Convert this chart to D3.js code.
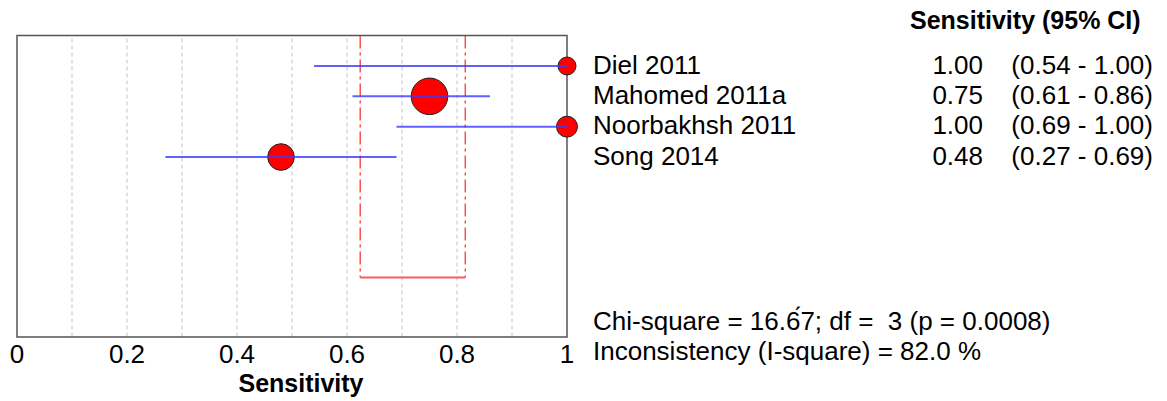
<!DOCTYPE html>
<html>
<head>
<meta charset="utf-8">
<script src="https://cdn.jsdelivr.net/npm/d3@7"></script>
<style>
  body { margin: 0; background: #fff; }
  text { font-family: "Liberation Sans", Arial, sans-serif; fill: #000; white-space: pre; }
</style>
</head>
<body>
<div id="chart"></div>
<script>
// study data
var studies = ["Diel 2011", "Mahomed 2011a", "Noorbakhsh 2011", "Song 2014"];
var sens = [1.00, 0.75, 1.00, 0.48];
var lower = [0.54, 0.61, 0.69, 0.27];
var upper = [1.00, 0.86, 1.00, 0.69];
var weights = [81, 335, 110, 177];   // marker area (relative)

// pooled CI
var pooled = [0.624, 0.815];

var tickValues = [0, 0.2, 0.4, 0.6, 0.8, 1];
var tickLabels = ["0", "0.2", "0.4", "0.6", "0.8", "1"];
var gridValues = [0.1, 0.2, 0.3, 0.4, 0.5, 0.6, 0.7, 0.8, 0.9];

var header = "Sensitivity (95% CI)";
var axisTitle = "Sensitivity";
var stats = ["Chi-square = 16.6\u03017; df =  3 (p = 0.0008)", "Inconsistency (I-square) = 82.0 %"];

var width = 1167, height = 401;
var plotLeft = 17, plotRight = 567, plotTop = 35.5, plotBottom = 337;

var svg = d3.select("#chart").append("svg")
    .attr("width", width)
    .attr("height", height);

var x = d3.scaleLinear().domain([0, 1]).range([plotLeft, plotRight]);
var y = d3.scalePoint().domain(studies).range([66, 157]);
var r = d3.scaleSqrt().domain([0, d3.max(weights)]).range([0, 18.3]);

var rows = studies.map(function (s, i) {
    return { name: s, est: sens[i], lo: lower[i], hi: upper[i], w: weights[i] };
});

// grid
svg.selectAll(".grid")
    .data(gridValues)
    .enter()
    .append("line")
    .attr("x1", function (d) { return x(d); })
    .attr("x2", function (d) { return x(d); })
    .attr("y1", plotTop + 3)
    .attr("y2", plotBottom)
    .attr("stroke", "#c4c4c4")
    .attr("stroke-width", 1)
    .attr("stroke-dasharray", "4,3");

// pooled CI bracket
var bracketY = 277.5;
svg.selectAll(".pooled")
    .data(pooled)
    .enter()
    .append("line")
    .attr("x1", function (d) { return x(d); })
    .attr("x2", function (d) { return x(d); })
    .attr("y1", plotTop)
    .attr("y2", bracketY)
    .attr("stroke", "#ff3838")
    .attr("stroke-width", 1.3)
    .attr("stroke-dasharray", "13,4,3,4");

svg.append("line")
    .attr("x1", x(pooled[0]))
    .attr("x2", x(pooled[1]))
    .attr("y1", bracketY)
    .attr("y2", bracketY)
    .attr("stroke", "#ff5a5a")
    .attr("stroke-width", 2);

// box
svg.append("rect")
    .attr("x", plotLeft)
    .attr("y", plotTop)
    .attr("width", plotRight - plotLeft)
    .attr("height", plotBottom - plotTop)
    .attr("fill", "none")
    .attr("stroke", "#555")
    .attr("stroke-width", 1.5);

// points
svg.selectAll(".pt")
    .data(rows)
    .enter()
    .append("circle")
    .attr("cx", function (d) { return x(d.est); })
    .attr("cy", function (d) { return y(d.name); })
    .attr("r", function (d) { return r(d.w); })
    .attr("fill", "#ff0000")
    .attr("stroke", "#222")
    .attr("stroke-width", 1);

// CI lines
svg.selectAll(".ci")
    .data(rows)
    .enter()
    .append("line")
    .attr("x1", function (d) { return x(d.lo); })
    .attr("x2", function (d) { return x(d.hi); })
    .attr("y1", function (d) { return y(d.name); })
    .attr("y2", function (d) { return y(d.name); })
    .attr("stroke", "#3a3aff")
    .attr("stroke-opacity", 0.8)
    .attr("stroke-width", 2);

// x axis labels
svg.selectAll(".tick")
    .data(tickValues)
    .enter()
    .append("text")
    .attr("x", function (d) { return x(d); })
    .attr("y", 363)
    .attr("text-anchor", "middle")
    .style("font-size", "26px")
    .text(function (d, i) { return tickLabels[i]; });

svg.append("text")
    .attr("x", 301)
    .attr("y", 392)
    .attr("text-anchor", "middle")
    .style("font-size", "25px")
    .style("font-weight", "bold")
    .text(axisTitle);

// right hand table
svg.append("text")
    .attr("x", 910)
    .attr("y", 29)
    .style("font-size", "25px")
    .style("font-weight", "bold")
    .text(header);

var fmt = d3.format(".2f");

svg.selectAll(".name")
    .data(rows)
    .enter()
    .append("text")
    .attr("x", 593)
    .attr("y", function (d) { return y(d.name) + 7.5; })
    .style("font-size", "26px")
    .text(function (d) { return d.name; });

svg.selectAll(".est")
    .data(rows)
    .enter()
    .append("text")
    .attr("x", 983)
    .attr("y", function (d) { return y(d.name) + 7.5; })
    .attr("text-anchor", "end")
    .style("font-size", "26px")
    .text(function (d) { return fmt(d.est); });

svg.selectAll(".cil")
    .data(rows)
    .enter()
    .append("text")
    .attr("x", 1153)
    .attr("y", function (d) { return y(d.name) + 7.5; })
    .attr("text-anchor", "end")
    .style("font-size", "26px")
    .text(function (d) { return "(" + fmt(d.lo) + " - " + fmt(d.hi) + ")"; });

// heterogeneity stats
svg.selectAll(".stat")
    .data(stats)
    .enter()
    .append("text")
    .attr("x", 593)
    .attr("y", function (d, i) { return 330 + i * 30; })
    .style("font-size", "26px")
    .text(function (d) { return d; });
</script>
</body>
</html>
